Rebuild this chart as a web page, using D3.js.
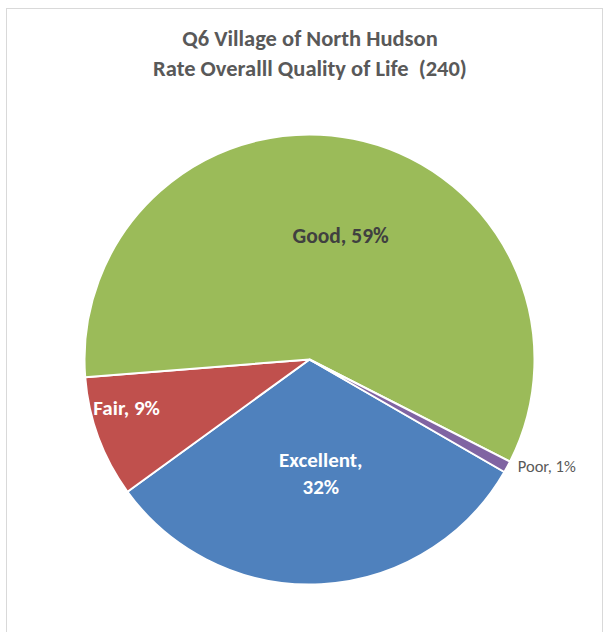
<!DOCTYPE html>
<html><head><meta charset="utf-8">
<script src="https://cdn.jsdelivr.net/npm/d3@7"></script>
<style>html,body{margin:0;padding:0;background:#fff;}svg{display:block;}text{white-space:pre;}</style>
</head><body>
<svg id="c" width="604" height="632"></svg>
<script>
const titleLines = ["Q6 Village of North Hudson", "Rate Overalll Quality of Life  (240)"];
const categories = ["Excellent", "Fair", "Good", "Poor"];
const counts = [76, 21, 141, 2];
const labels = ["32%", "9%", "59%", "1%"];
const colors = ["#4F81BD", "#C0504D", "#9BBB59", "#8064A2"];

const svg = d3.select("#c");
svg.append("rect").attr("x", 6.5).attr("y", 8.5).attr("width", 596).attr("height", 640)
  .attr("fill", "#fff").attr("stroke", "#d9d9d9").attr("stroke-width", 1);

const font = "Carlito, Lato, sans-serif";
svg.selectAll("text.title").data(titleLines).enter().append("text")
  .attr("class", "title")
  .attr("x", 310).attr("y", (d, i) => 46 + i * 30)
  .attr("text-anchor", "middle")
  .attr("font-family", font).attr("font-weight", "bold").attr("font-size", 22.5)
  .attr("fill", "#595959").text(d => d);

const cx = 309.5, cy = 359.5, R = 225;
const startDeg = 120;
const pie = d3.pie().sort(null).value(d => d)
  .startAngle(startDeg * Math.PI / 180).endAngle((startDeg + 360) * Math.PI / 180);
const arcs = pie(counts);
const arc = d3.arc().innerRadius(0).outerRadius(R);
const g = svg.append("g").attr("transform", `translate(${cx},${cy})`);
g.selectAll("path").data(arcs).enter().append("path")
  .attr("d", arc).attr("fill", (d, i) => colors[i])
  .attr("stroke", "#fff").attr("stroke-width", 2).attr("stroke-linejoin", "round");

function addLabel(lines, x, y, opts) {
  const t = svg.append("text").attr("x", x).attr("y", y)
    .attr("text-anchor", opts.anchor || "middle")
    .attr("font-family", font).attr("font-weight", opts.bold ? "bold" : "normal")
    .attr("font-size", opts.size).attr("fill", opts.fill);
  lines.forEach((l, i) => t.append("tspan").attr("x", x).attr("dy", i === 0 ? 0 : opts.lh).text(l));
}
const la = r => d3.arc().innerRadius(R * r).outerRadius(R * r);
// Excellent
{
  const c = la(0.62).centroid(arcs[0]);
  addLabel([categories[0] + ",", labels[0]], cx + c[0] + 4, cy + c[1] - 32, {bold: true, size: 21, fill: "#fff", lh: 27});
}
// Fair
{
  const c = la(0.62).centroid(arcs[1]);
  addLabel([categories[1] + ", " + labels[1]], cx + c[0] - 52, cy + c[1] + 7, {bold: true, size: 21, fill: "#fff"});
}
// Good
{
  const c = la(0.55).centroid(arcs[2]);
  addLabel([categories[2] + ", " + labels[2]], cx + c[0] + 7, cy + c[1] + 5, {bold: true, size: 21.5, fill: "#404040"});
}
// Poor (outside)
{
  const a = (arcs[3].startAngle + arcs[3].endAngle) / 2;
  const x = cx + Math.sin(a) * (R + 12), y = cy - Math.cos(a) * (R + 12);
  addLabel([categories[3] + ", " + labels[3]], x, y - 1, {bold: false, size: 16.5, fill: "#595959", anchor: "start"});
}
</script>
</body></html>
